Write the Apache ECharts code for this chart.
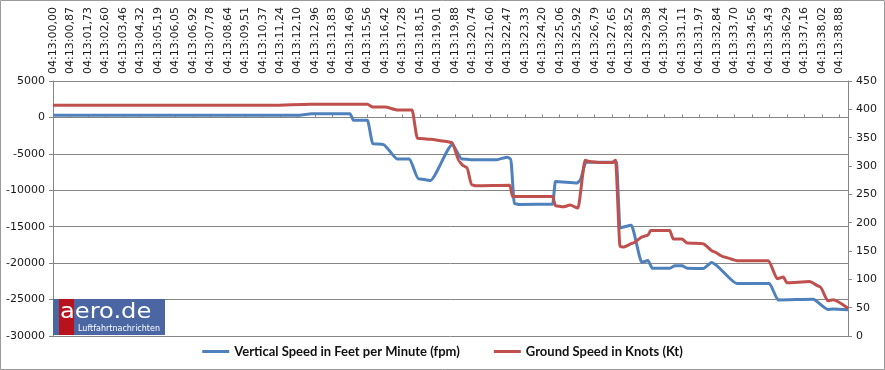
<!DOCTYPE html>
<html>
<head>
<meta charset="utf-8">
<script src="https://cdn.jsdelivr.net/npm/echarts@6/dist/echarts.min.js"></script>
<style>
html,body{margin:0;padding:0;background:#fff;}
#chart{width:885px;height:370px;}
</style>
</head>
<body>
<div id="chart"></div>
<script>
// Time tick labels (top axis, one per label position)
var timeLabels = [
  '04:13:00,00','04:13:00,87','04:13:01,73','04:13:02,60','04:13:03,46','04:13:04,32',
  '04:13:05,19','04:13:06,05','04:13:06,92','04:13:07,78','04:13:08,64','04:13:09,51',
  '04:13:10,37','04:13:11,24','04:13:12,10','04:13:12,96','04:13:13,83','04:13:14,69',
  '04:13:15,56','04:13:16,42','04:13:17,28','04:13:18,15','04:13:19,01','04:13:19,88',
  '04:13:20,74','04:13:21,60','04:13:22,47','04:13:23,33','04:13:24,20','04:13:25,06',
  '04:13:25,92','04:13:26,79','04:13:27,65','04:13:28,52','04:13:29,38','04:13:30,24',
  '04:13:31,11','04:13:31,97','04:13:32,84','04:13:33,70','04:13:34,56','04:13:35,43',
  '04:13:36,29','04:13:37,16','04:13:38,02','04:13:38,88'
];

// Vertical speed (fpm): positions in tick-label units
var vsPos = [0,14.1,14.8,17.0,17.2,18.0,18.3,18.9,19.7,20.4,20.9,21.6,22.85,23.4,23.9,25.4,26.0,26.2,26.4,26.7,28.6,28.75,30.0,30.15,30.5,32.25,32.45,33.1,33.7,34.05,34.3,35.3,35.6,36.0,36.3,37.2,37.7,39.15,41.0,41.5,43.5,44.35,44.65,45.5];
var vsVal = [300,300,500,500,-400,-400,-3600,-3700,-5700,-5700,-8400,-8650,-3750,-5700,-5800,-5800,-5450,-5700,-11800,-11950,-11900,-8800,-9000,-8700,-6150,-6150,-15150,-14800,-19900,-19650,-20700,-20700,-20350,-20350,-20700,-20750,-19900,-22800,-22800,-25050,-24950,-26350,-26300,-26400];

// Ground speed (kt)
var gsPos = [0,12.6,14.7,18.0,18.3,19.0,19.7,20.55,20.85,21.6,22.6,22.85,23.25,23.45,23.7,23.95,24.2,26.15,26.3,28.6,28.75,29.2,29.6,30.05,30.45,30.7,31.3,32.0,32.2,32.45,32.65,33.2,33.75,34.05,34.2,35.3,35.5,36.0,36.3,37.2,37.8,38.35,39.15,40.95,41.45,41.8,42.0,43.3,43.9,44.35,44.65,45.5];
var gsVal = [407,407,409,409,404,404,399,399,349,347,343,341,308,301,297,267,265,266,246,246,230,228,231,226,310,308,306,306,310,158,157,164,175,178,186,186,171,171,164,163,149,140,133,133,101,104,94,96,87,62,64,49];

var seriesNames = ['Vertical Speed in Feet per Minute (fpm)', 'Ground Speed in Knots (Kt)'];

function pairs(xs, ys){ return xs.map(function(x,i){ return [x, ys[i]]; }); }

var chart = echarts.init(document.getElementById('chart'));
var axisGray = '#868686';
var lbl = { color:'#1a1a1a', fontFamily:'DejaVu Sans', fontSize:11 };

chart.setOption({
  animation:false,
  backgroundColor:'#fff',
  grid:{ left:53, right:37, top:81, bottom:34, containLabel:false },
  legend:{
    data:seriesNames,
    left:'center', top:340,
    icon:'rect', itemWidth:27, itemHeight:3, itemGap:34,
    textStyle:{ fontFamily:'Lato', fontWeight:'bold', fontSize:13, color:'#111' }
  },
  xAxis:{
    type:'value', position:'top', min:0, max:45.5, interval:1,
    axisLine:{ show:true, lineStyle:{ color:axisGray } },
    axisTick:{ show:true, length:3, lineStyle:{ color:axisGray } },
    splitLine:{ show:false },
    axisLabel:Object.assign({}, lbl, {
      rotate:90, margin:7,
      formatter:function(v){ return (Math.abs(v-Math.round(v))<1e-6 && timeLabels[Math.round(v)]) ? timeLabels[Math.round(v)] : ''; }
    })
  },
  yAxis:[{
    type:'value', min:-30000, max:5000, interval:5000, position:'left',
    axisLine:{ show:true, lineStyle:{ color:axisGray } },
    axisTick:{ show:true, length:4, lineStyle:{ color:axisGray } },
    splitLine:{ show:true, lineStyle:{ color:axisGray, width:1 } },
    axisLabel:Object.assign({}, lbl, { margin:8, formatter:function(v){ return String(v); } })
  },{
    type:'value', min:0, max:450, interval:50, position:'right',
    axisLine:{ show:true, lineStyle:{ color:axisGray } },
    axisTick:{ show:true, length:4, lineStyle:{ color:axisGray } },
    splitLine:{ show:false },
    axisLabel:Object.assign({}, lbl, { margin:8, formatter:function(v){ return String(v); } })
  }],
  series:[{
    name:seriesNames[0], type:'line', yAxisIndex:0, data:pairs(vsPos, vsVal),
    showSymbol:false, symbol:'none', smooth:0.2, smoothMonotone:'x',
    lineStyle:{ color:'#4f81bd', width:3 }, itemStyle:{ color:'#4f81bd' }
  },{
    name:seriesNames[1], type:'line', yAxisIndex:1, data:pairs(gsPos, gsVal),
    showSymbol:false, symbol:'none', smooth:0.2, smoothMonotone:'x',
    lineStyle:{ color:'#c0504d', width:3 }, itemStyle:{ color:'#c0504d' }
  }],
  graphic:[
    { type:'rect', shape:{ x:0.5, y:0.5, width:884, height:369 }, style:{ fill:'none', stroke:'#9a9a9a', lineWidth:1 }, z:100 },
    { type:'rect', shape:{ x:53, y:299, width:112, height:36 }, style:{ fill:'#4a67a3' }, z:50 },
    { type:'rect', shape:{ x:59, y:299, width:15, height:36 }, style:{ fill:'#b8121c' }, z:51 },
    { type:'text', x:60, y:302, scaleX:1.15, z:52,
      style:{ text:'aero.de', fill:'#fff', fontFamily:'DejaVu Sans', fontSize:21, verticalAlign:'top', align:'left' } },
    { type:'text', x:78, y:325, z:52,
      style:{ text:'Luftfahrtnachrichten', fill:'#fff', fontFamily:'DejaVu Sans', fontSize:8, verticalAlign:'top', align:'left' } }
  ]
});
</script>
</body>
</html>
